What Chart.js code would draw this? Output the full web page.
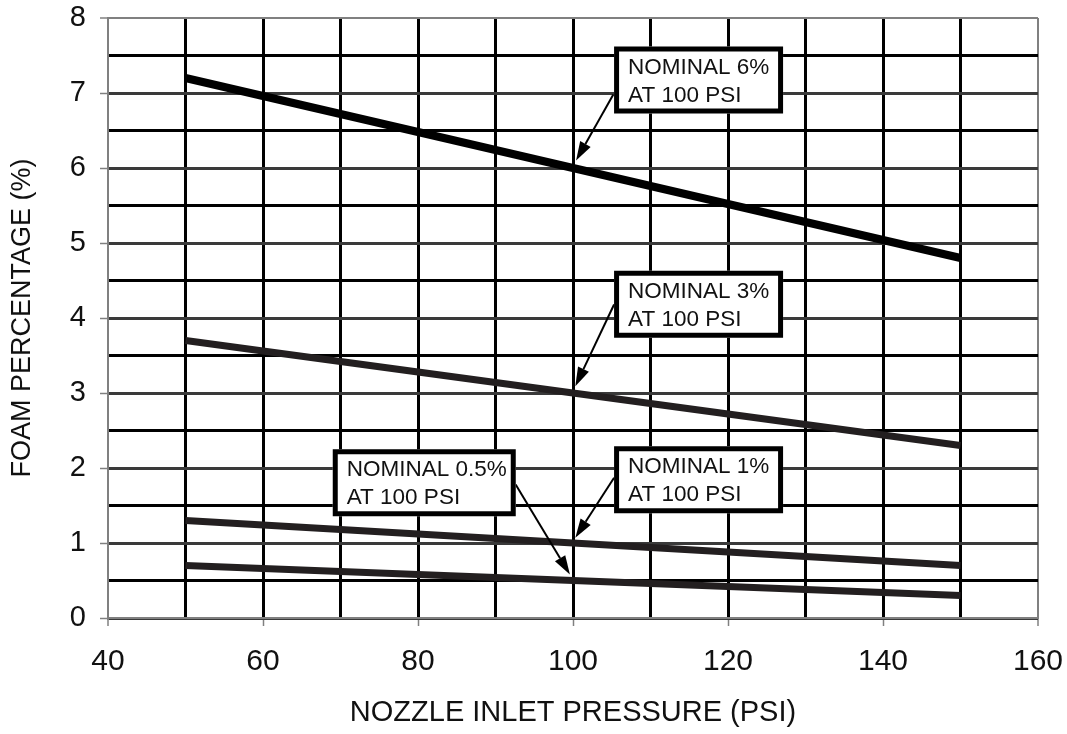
<!DOCTYPE html>
<html>
<head>
<meta charset="utf-8">
<script src="https://cdn.jsdelivr.net/npm/chart.js@4.4.1/dist/chart.umd.min.js"></script>
<style>
  html, body { margin: 0; padding: 0; background: #fff; }
  #wrap { width: 1067px; height: 734px; position: relative; }
</style>
</head>
<body>
<div id="wrap"><canvas id="foamChart"></canvas></div>
<script>
// nozzle inlet pressure (psi) at the two ends of each curve
const pressure = [50, 150];
// foam percentage (%) for each nominal setting
const foam6 = [7.2, 4.8];
const foam3 = [3.7, 2.3];
const foam1 = [1.3, 0.7];
const foam05 = [0.7, 0.3];

const xTicks = [40, 60, 80, 100, 120, 140, 160];
const yTicks = [0, 1, 2, 3, 4, 5, 6, 7, 8];

// callout boxes, in data units (box top-left, arrow tail, arrow tip)
const callouts = [
    { text: ['NOMINAL 6%', 'AT 100 PSI'],   boxX: 105.3, boxY: 7.62, w: 169, tail: [105.2, 6.98], tip: [100.4, 6.10] },
    { text: ['NOMINAL 3%', 'AT 100 PSI'],   boxX: 105.3, boxY: 4.63, w: 169, tail: [105.3, 4.18], tip: [100.3, 3.09] },
    { text: ['NOMINAL 1%', 'AT 100 PSI'],   boxX: 105.3, boxY: 2.29, w: 169, tail: [105.3, 1.87], tip: [100.3, 1.07] },
    { text: ['NOMINAL 0.5%', 'AT 100 PSI'], boxX: 69.0,  boxY: 2.25, w: 183, tail: [92.6, 1.78],  tip: [99.6, 0.58] }
];

const FONT = "'Liberation Sans', Arial, Helvetica, sans-serif";
const GRAY = '#808080';

function toPoints(ys) {
    return pressure.map((p, i) => ({ x: p, y: ys[i] }));
}

function drawArrow(ctx, x1, y1, x2, y2) {
    const ang = Math.atan2(y2 - y1, x2 - x1);
    const headLen = 19, headHalf = 6;
    const bx = x2 - headLen * Math.cos(ang), by = y2 - headLen * Math.sin(ang);
    ctx.strokeStyle = '#000';
    ctx.lineWidth = 2;
    ctx.beginPath();
    ctx.moveTo(x1, y1);
    ctx.lineTo(bx, by);
    ctx.stroke();
    ctx.fillStyle = '#000';
    ctx.beginPath();
    ctx.moveTo(x2, y2);
    ctx.lineTo(bx + headHalf * Math.sin(ang), by - headHalf * Math.cos(ang));
    ctx.lineTo(bx - headHalf * Math.sin(ang), by + headHalf * Math.cos(ang));
    ctx.closePath();
    ctx.fill();
}

const calloutPlugin = {
    id: 'callouts',
    afterDatasetsDraw(chart) {
        const { ctx, scales: { x, y } } = chart;
        ctx.save();
        callouts.forEach(c => {
            drawArrow(ctx,
                x.getPixelForValue(c.tail[0]), y.getPixelForValue(c.tail[1]),
                x.getPixelForValue(c.tip[0]), y.getPixelForValue(c.tip[1]));

            const bx = x.getPixelForValue(c.boxX);
            const by = y.getPixelForValue(c.boxY);
            const h = 67;
            ctx.fillStyle = '#fff';
            ctx.fillRect(bx, by, c.w, h);
            ctx.strokeStyle = '#000';
            ctx.lineWidth = 5;
            ctx.strokeRect(bx + 2.5, by + 2.5, c.w - 5, h - 5);

            ctx.fillStyle = '#111';
            ctx.font = '22.5px ' + FONT;
            ctx.textAlign = 'left';
            ctx.textBaseline = 'alphabetic';
            ctx.fillText(c.text[0], bx + 14, by + 27);
            ctx.fillText(c.text[1], bx + 14, by + 55);
        });
        ctx.restore();
    }
};

const lineStyle = {
    pointRadius: 0,
    borderCapStyle: 'butt',
    tension: 0,
    fill: false
};

const ctx = document.getElementById('foamChart').getContext('2d');
new Chart(ctx, {
    type: 'line',
    data: {
        datasets: [
            { label: 'Nominal 6%', data: toPoints(foam6), borderColor: '#000', borderWidth: 8, ...lineStyle },
            { label: 'Nominal 3%', data: toPoints(foam3), borderColor: '#231f20', borderWidth: 7, ...lineStyle },
            { label: 'Nominal 1%', data: toPoints(foam1), borderColor: '#231f20', borderWidth: 7, ...lineStyle },
            { label: 'Nominal 0.5%', data: toPoints(foam05), borderColor: '#231f20', borderWidth: 7, ...lineStyle }
        ]
    },
    options: {
        responsive: true,
        maintainAspectRatio: false,
        animation: false,
        events: [],
        layout: { padding: { top: 18, right: 29, left: 0, bottom: 0 } },
        plugins: {
            legend: { display: false },
            tooltip: { enabled: false }
        },
        scales: {
            x: {
                type: 'linear',
                min: 40,
                max: 160,
                afterFit(scale) {
                    scale.height = 116;
                    scale.paddingLeft = 0;
                    scale.paddingRight = 0;
                },
                border: { display: true, color: GRAY, width: 2 },
                grid: {
                    color: c => (c.tick.value === 40 || c.tick.value === 160) ? GRAY : '#000',
                    lineWidth: c => (c.tick.value === 40 || c.tick.value === 160) ? 2 : 3,
                    tickColor: c => xTicks.includes(c.tick.value) ? GRAY : 'rgba(0,0,0,0)',
                    tickWidth: 1.5,
                    tickLength: 8
                },
                ticks: {
                    stepSize: 10,
                    autoSkip: false,
                    maxRotation: 0,
                    padding: 18,
                    color: '#111',
                    font: { family: FONT, size: 30 },
                    callback: v => xTicks.includes(v) ? String(v) : ''
                },
                title: {
                    display: true,
                    text: 'NOZZLE INLET PRESSURE (PSI)',
                    color: '#111',
                    font: { family: FONT, size: 29 },
                    padding: { top: 0, bottom: 4 }
                }
            },
            y: {
                type: 'linear',
                min: 0,
                max: 8,
                afterFit(scale) {
                    scale.width = 108;
                    scale.paddingTop = 0;
                    scale.paddingBottom = 0;
                },
                border: { display: true, color: GRAY, width: 2 },
                grid: {
                    color: c => {
                        const v = c.tick.value;
                        if (v === 8) return GRAY;
                        return Number.isInteger(v) ? '#3a3a3a' : '#000';
                    },
                    lineWidth: c => c.tick.value === 8 ? 2 : 3,
                    tickColor: c => yTicks.includes(c.tick.value) ? GRAY : 'rgba(0,0,0,0)',
                    tickWidth: 1.5,
                    tickLength: 8
                },
                ticks: {
                    stepSize: 0.5,
                    autoSkip: false,
                    padding: 14,
                    color: '#111',
                    font: { family: FONT, size: 29 },
                    callback: v => yTicks.includes(v) ? String(v) : ''
                },
                title: {
                    display: true,
                    text: 'FOAM PERCENTAGE (%)',
                    color: '#111',
                    font: { family: FONT, size: 27 },
                    padding: { top: 6, bottom: 0 }
                }
            }
        }
    },
    plugins: [calloutPlugin]
});
</script>
</body>
</html>
